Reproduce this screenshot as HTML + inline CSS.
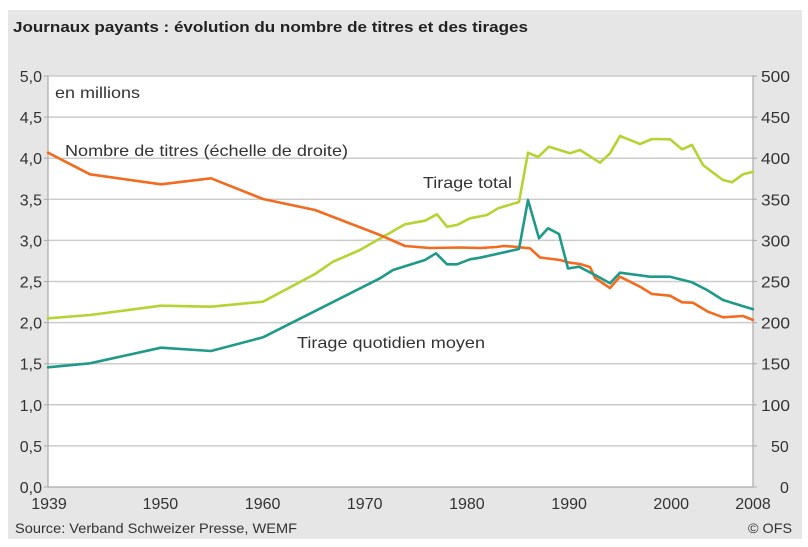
<!DOCTYPE html>
<html>
<head>
<meta charset="utf-8">
<style>
  html, body { margin:0; padding:0; background:#ffffff; }
  svg { display:block; }
  text { font-family: "Liberation Sans", "DejaVu Sans", sans-serif; fill:#333333; }
</style>
</head>
<body>
<svg width="808" height="547" viewBox="0 0 808 547" xmlns="http://www.w3.org/2000/svg">
  <!-- background -->
  <rect x="0" y="0" width="808" height="547" fill="#ffffff"/>
  <rect x="8" y="10" width="794" height="529" fill="#e6e6e6"/>
  <!-- plot area -->
  <rect x="48" y="76" width="705" height="411" fill="#ffffff"/>

  <!-- title -->
  <text x="13" y="32" font-size="15" font-weight="bold" textLength="515" lengthAdjust="spacingAndGlyphs" style="fill:#222">Journaux payants : évolution du nombre de titres et des tirages</text>

  <!-- gridlines -->
  <g stroke="#cccccc" stroke-width="1.5">
    <line x1="48" y1="76" x2="753" y2="76"/>
    <line x1="48" y1="117.1" x2="753" y2="117.1"/>
    <line x1="48" y1="158.2" x2="753" y2="158.2"/>
    <line x1="48" y1="199.3" x2="753" y2="199.3"/>
    <line x1="48" y1="240.4" x2="753" y2="240.4"/>
    <line x1="48" y1="281.5" x2="753" y2="281.5"/>
    <line x1="48" y1="322.6" x2="753" y2="322.6"/>
    <line x1="48" y1="363.7" x2="753" y2="363.7"/>
    <line x1="48" y1="404.8" x2="753" y2="404.8"/>
    <line x1="48" y1="445.9" x2="753" y2="445.9"/>
  </g>
  <!-- axes -->
  <g stroke="#aaaaaa" stroke-width="1.2">
    <line x1="48" y1="76" x2="48" y2="487"/>
    <line x1="753" y1="76" x2="753" y2="487"/>
    <line x1="48" y1="487" x2="753" y2="487"/>
  </g>
  <!-- ticks -->
  <g stroke="#aaaaaa" stroke-width="1">
    <line x1="44" y1="76" x2="48" y2="76"/><line x1="753" y1="76" x2="757" y2="76"/>
    <line x1="44" y1="117.1" x2="48" y2="117.1"/><line x1="753" y1="117.1" x2="757" y2="117.1"/>
    <line x1="44" y1="158.2" x2="48" y2="158.2"/><line x1="753" y1="158.2" x2="757" y2="158.2"/>
    <line x1="44" y1="199.3" x2="48" y2="199.3"/><line x1="753" y1="199.3" x2="757" y2="199.3"/>
    <line x1="44" y1="240.4" x2="48" y2="240.4"/><line x1="753" y1="240.4" x2="757" y2="240.4"/>
    <line x1="44" y1="281.5" x2="48" y2="281.5"/><line x1="753" y1="281.5" x2="757" y2="281.5"/>
    <line x1="44" y1="322.6" x2="48" y2="322.6"/><line x1="753" y1="322.6" x2="757" y2="322.6"/>
    <line x1="44" y1="363.7" x2="48" y2="363.7"/><line x1="753" y1="363.7" x2="757" y2="363.7"/>
    <line x1="44" y1="404.8" x2="48" y2="404.8"/><line x1="753" y1="404.8" x2="757" y2="404.8"/>
    <line x1="44" y1="445.9" x2="48" y2="445.9"/><line x1="753" y1="445.9" x2="757" y2="445.9"/>
    <line x1="44" y1="487" x2="48" y2="487"/><line x1="753" y1="487" x2="757" y2="487"/>
  </g>

  <!-- left axis labels -->
  <g font-size="16" text-anchor="end">
    <text x="42" y="82">5,0</text>
    <text x="42" y="123.1">4,5</text>
    <text x="42" y="164.2">4,0</text>
    <text x="42" y="205.3">3,5</text>
    <text x="42" y="246.4">3,0</text>
    <text x="42" y="287.5">2,5</text>
    <text x="42" y="328.6">2,0</text>
    <text x="42" y="369.7">1,5</text>
    <text x="42" y="410.8">1,0</text>
    <text x="42" y="451.9">0,5</text>
    <text x="42" y="493">0,0</text>
  </g>
  <!-- right axis labels -->
  <g font-size="16" text-anchor="start">
    <text x="761" y="82" textLength="29" lengthAdjust="spacingAndGlyphs">500</text>
    <text x="761" y="123.1" textLength="29" lengthAdjust="spacingAndGlyphs">450</text>
    <text x="761" y="164.2" textLength="29" lengthAdjust="spacingAndGlyphs">400</text>
    <text x="761" y="205.3" textLength="29" lengthAdjust="spacingAndGlyphs">350</text>
    <text x="761" y="246.4" textLength="29" lengthAdjust="spacingAndGlyphs">300</text>
    <text x="761" y="287.5" textLength="29" lengthAdjust="spacingAndGlyphs">250</text>
    <text x="761" y="328.6" textLength="29" lengthAdjust="spacingAndGlyphs">200</text>
    <text x="761" y="369.7" textLength="29" lengthAdjust="spacingAndGlyphs">150</text>
    <text x="761" y="410.8" textLength="29" lengthAdjust="spacingAndGlyphs">100</text>
    <text x="771" y="451.9">50</text>
    <text x="780" y="493">0</text>
  </g>
  <!-- x axis labels -->
  <g font-size="16" text-anchor="middle">
    <text x="49" y="509">1939</text>
    <text x="160.4" y="509">1950</text>
    <text x="262.6" y="509">1960</text>
    <text x="364.7" y="509">1970</text>
    <text x="466.9" y="509">1980</text>
    <text x="569.1" y="509">1990</text>
    <text x="671.2" y="509">2000</text>
    <text x="753" y="509">2008</text>
  </g>

  <!-- annotations -->
  <text x="55" y="98" font-size="16" textLength="85" lengthAdjust="spacingAndGlyphs">en millions</text>
  <text x="65" y="156" font-size="16" textLength="283" lengthAdjust="spacingAndGlyphs">Nombre de titres (échelle de droite)</text>
  <text x="423" y="188" font-size="16" textLength="89" lengthAdjust="spacingAndGlyphs">Tirage total</text>
  <text x="297" y="348" font-size="16" textLength="188" lengthAdjust="spacingAndGlyphs">Tirage quotidien moyen</text>

  <!-- series -->
  <g fill="none" stroke-width="2.6" stroke-linejoin="round" stroke-linecap="round">
    <!-- Tirage total (lime) -->
    <polyline stroke="#b6d334" points="48,318.3 90,315 161,305.7 211,306.7 263,301.7 315,274 333,261.7 360,250 392,231.7 405,224.3 425,220.7 437,214.3 447,226.7 457,225 470,218.3 487,215 498,208.3 519,202 528,152.7 538,157 549,146.7 570,153.3 580,150 600,162.7 610,153.3 620,136 640,144 652,139 670,139.3 682,149.3 692,145 703,165 713,172.7 723,180 732,182.3 743,174.3 753,171.7"/>
    <!-- Nombre de titres (orange) -->
    <polyline stroke="#f26b1f" points="48,152.7 90,174.3 161,184.3 211,178.3 263,199 315,210 380,235 405,246 430,248 460,247.5 480,248 497,247 503,246 512,246.5 530,248.3 540,257.5 560,260 570,262.7 580,264 590,267 595,278 610,288 620,276.7 640,286.7 652,294 670,295.7 682,302.3 693,302.7 708,311.7 723,317.3 743,316 753,320"/>
    <!-- Tirage quotidien moyen (teal) -->
    <polyline stroke="#1f9a88" points="48,367.3 90,363.3 161,347.7 211,351 263,337.3 380,278.3 393,270 425,260 436,253.3 447,264.3 457,264.3 470,259.3 480,257.7 519,249 528,200 539,238.3 548,228.3 559,234 568,268.5 579,266.7 595,275 610,283.3 620,272.7 650,276.7 670,276.7 692,282.3 707,290 723,300 753,309.3"/>
  </g>

  <!-- footer -->
  <text x="15" y="533" font-size="14" textLength="282" lengthAdjust="spacingAndGlyphs">Source: Verband Schweizer Presse, WEMF</text>
  <text x="748" y="533" font-size="14" textLength="44" lengthAdjust="spacingAndGlyphs">© OFS</text>
</svg>
</body>
</html>
